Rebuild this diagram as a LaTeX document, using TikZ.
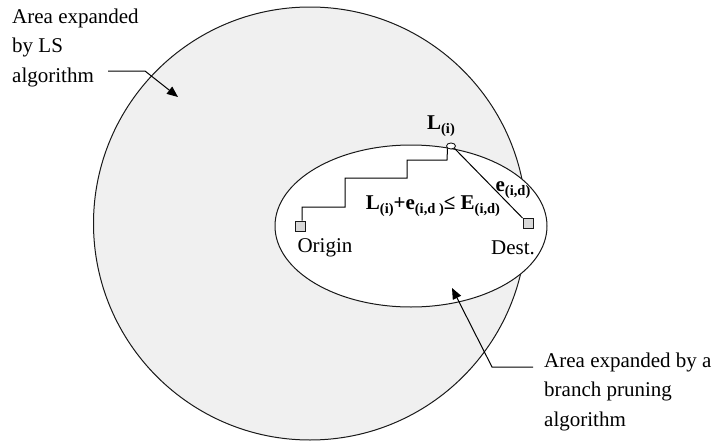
\documentclass[tikz,border=0pt]{standalone}
\usepackage{fontspec}
\setmainfont{Liberation Serif}
\usetikzlibrary{arrows.meta,shapes.geometric}
\newcommand\lowidx[1]{\raisebox{-0.45ex}{\fontsize{14.5}{14.5}\selectfont #1}}
\definecolor{areagray}{HTML}{F0F0F0}
\definecolor{boxgray}{HTML}{D8D8D8}
\tikzset{
  outline/.style={draw=black!90, line width=1pt},
  endpoint/.style={draw=black!90, line width=0.9pt, fill=boxgray, minimum size=10pt, inner sep=0pt},
  joint/.style={ellipse, draw=black!90, line width=0.9pt, fill=white, minimum width=9pt, minimum height=6pt, inner sep=0pt},
  route/.style={draw=black, line width=1pt},
  callout/.style={draw=black, line width=1pt, -{Triangle[length=11pt,width=9pt]}},
  plain/.style={font=\fontsize{21}{29.5}\selectfont, inner sep=0pt},
  formula/.style={font=\fontsize{21}{22}\selectfont\bfseries, inner sep=0pt}
}
\begin{document}
\begin{tikzpicture}[x=1pt,y=-1pt]
  \useasboundingbox (0,0) rectangle (716,442);
  % area covered by the LS search
  \draw[outline, fill=areagray] (310,223.5) circle[radius=216.5];
  % area covered by branch pruning
  \draw[outline, fill=white] (411,226) ellipse[x radius=136, y radius=81];

  \node[endpoint] (origin) at (300,226) {};
  \node[endpoint] (dest) at (528,223.5) {};
  \node[joint] (li) at (451,146) {};

  % staircase path from the origin up to L(i)
  \draw[route] ([xshift=2pt]origin.north) |- (345,207) |- (407,178) |- (447,160) -- (li.south west);
  \draw[route] (li.south east) -- (dest.north west);

  \node[plain] (originlbl) at (325,248) {Origin};
  \node[plain] (destlbl) at (513,248) {Dest.};
  \node[formula] (lilbl) at (441,126) {L\lowidx{(i)}};
  \node[formula] (elbl) at (513,190) {e\lowidx{(i,d)}};
  \node[formula] (bound) at (433,206) {L\lowidx{(i)}+e\lowidx{(i,d )}≤ E\lowidx{(i,d)}};

  \node[plain, align=left, anchor=base west] (lstext) at (12,82) {Area expanded\\by LS\\algorithm};
  \node[plain, align=left, anchor=base west] (bptext) at (544,426) {Area expanded by a\\branch pruning\\algorithm};

  \coordinate (lsstart) at (108,71);
  \coordinate (lstip) at (178,97);
  \coordinate (bpstart) at (533,367);
  \coordinate (bptip) at (452,288);
  \draw[callout] (lsstart) -- (145,71) -- (lstip);
  \draw[callout] (bpstart) -- (492,367) -- (bptip);
\end{tikzpicture}
\end{document}
